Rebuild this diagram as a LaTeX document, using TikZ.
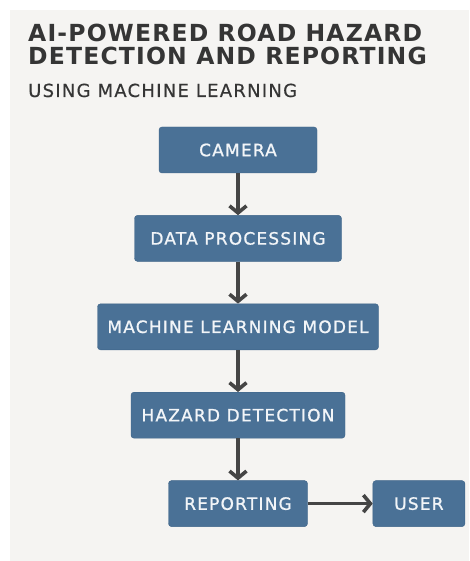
\documentclass[tikz,border=0pt]{standalone}
\usepackage{fontspec}
\usepackage{xcolor}
\usepackage{tikz}
\usetikzlibrary{arrows.meta,positioning}
\newfontfamily\titlefont[LetterSpace=5]{DejaVu Sans}
\newfontfamily\subfont[LetterSpace=7,FakeBold=0.4]{DejaVu Sans}
\newfontfamily\boxfont[LetterSpace=7,FakeBold=1]{DejaVu Sans}
\definecolor{panelgray}{HTML}{F5F4F2}
\definecolor{boxblue}{HTML}{4A7196}
\definecolor{boxedge}{HTML}{3E6488}
\definecolor{inkgray}{HTML}{353535}
\definecolor{arrowgray}{HTML}{454545}
\definecolor{boxtext}{HTML}{F2F5F8}

\begin{document}
\begin{tikzpicture}[
    x=1pt, y=1pt,
    font=\boxfont\fontsize{17}{20}\selectfont,
    box/.style={draw=boxedge, fill=boxblue, text=boxtext, rounded corners=3pt,
      align=center, inner sep=0pt, minimum height=46pt},
    arr/.style={-{Straight Barb[length=7pt,width=17pt]}, line width=3.6pt,
      draw=arrowgray},
    ttl/.style={anchor=base west, inner sep=0pt, text=inkgray},
    node distance=42pt,
  ]
    \useasboundingbox (0,0) rectangle (469,-561);
    \fill[panelgray] (10,-10) rectangle (469,-561);

    % --- heading ---
    \node[ttl, font=\titlefont\bfseries\fontsize{23.5}{27}\selectfont]
      (title-a) at (28,-42) {AI-POWERED ROAD HAZARD};
    \node[ttl, font=\titlefont\bfseries\fontsize{23.5}{27}\selectfont]
      (title-b) at (28,-65) {DETECTION AND REPORTING};
    \node[ttl, font=\subfont\fontsize{18}{21}\selectfont]
      (subtitle) at (28,-97) {USING MACHINE LEARNING};

    % --- pipeline ---
    \node[box, minimum width=158pt] (camera) at (238,-150) {CAMERA};
    \node[box, minimum width=207pt, below=of camera] (dataproc)
      {DATA PROCESSING};
    \node[box, minimum width=281pt, below=of dataproc] (mlmodel)
      {MACHINE LEARNING MODEL};
    \node[box, minimum width=214pt, below=of mlmodel] (hazard)
      {HAZARD DETECTION};
    \node[box, minimum width=139pt, below=of hazard] (report) {REPORTING};
    \node[box, minimum width=92pt, right=65pt of report] (user) {USER};

    \draw[arr] (camera) -- (dataproc);
    \draw[arr] (dataproc) -- (mlmodel);
    \draw[arr] (mlmodel) -- (hazard);
    \draw[arr] (hazard) -- (report);
    \draw[arr] (report) -- (user);
  \end{tikzpicture}
\end{document}
